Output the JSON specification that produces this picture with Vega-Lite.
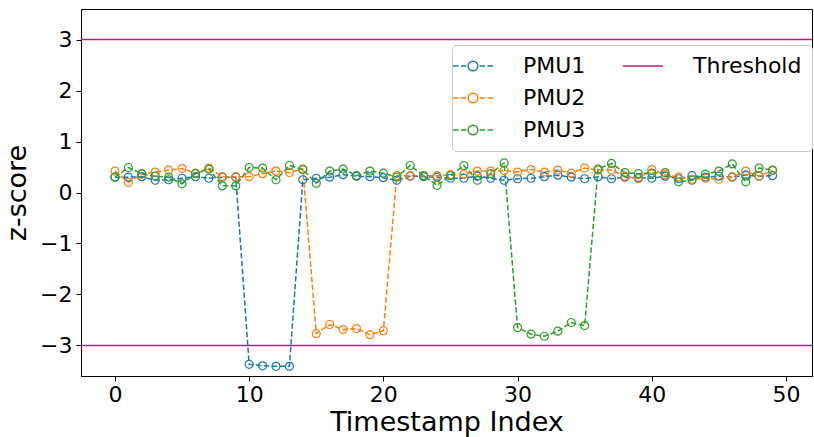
{
  "$schema": "https://vega.github.io/schema/vega-lite/v6.json",
  "width": 731,
  "height": 367,
  "autosize": {"type": "none"},
  "padding": {"left": 81, "top": 9, "right": 2, "bottom": 61},
  "background": "white",
  "config": {
    "font": "DejaVu Sans",
    "view": {"stroke": "#000", "strokeWidth": 1},
    "axis": {"grid": false, "domainColor": "#000", "tickColor": "#000", "labelColor": "#000", "titleColor": "#000", "labelFont": "DejaVu Sans", "titleFont": "DejaVu Sans", "titleFontWeight": "normal", "labelFontSize": 22, "titleFontSize": 27, "tickSize": 5, "labelPadding": 4}
  },
  "datasets": {
    "pmu": [
      {"x":0,"s":"PMU1","v":0.30},{"x":1,"s":"PMU1","v":0.30},{"x":2,"s":"PMU1","v":0.31},{"x":3,"s":"PMU1","v":0.24},{"x":4,"s":"PMU1","v":0.25},{"x":5,"s":"PMU1","v":0.28},{"x":6,"s":"PMU1","v":0.31},{"x":7,"s":"PMU1","v":0.28},{"x":8,"s":"PMU1","v":0.30},{"x":9,"s":"PMU1","v":0.30},
      {"x":10,"s":"PMU1","v":-3.37},{"x":11,"s":"PMU1","v":-3.40},{"x":12,"s":"PMU1","v":-3.41},{"x":13,"s":"PMU1","v":-3.41},{"x":14,"s":"PMU1","v":0.25},{"x":15,"s":"PMU1","v":0.28},{"x":16,"s":"PMU1","v":0.30},{"x":17,"s":"PMU1","v":0.35},{"x":18,"s":"PMU1","v":0.32},{"x":19,"s":"PMU1","v":0.31},
      {"x":20,"s":"PMU1","v":0.29},{"x":21,"s":"PMU1","v":0.24},{"x":22,"s":"PMU1","v":0.32},{"x":23,"s":"PMU1","v":0.31},{"x":24,"s":"PMU1","v":0.30},{"x":25,"s":"PMU1","v":0.28},{"x":26,"s":"PMU1","v":0.28},{"x":27,"s":"PMU1","v":0.32},{"x":28,"s":"PMU1","v":0.28},{"x":29,"s":"PMU1","v":0.24},
      {"x":30,"s":"PMU1","v":0.27},{"x":31,"s":"PMU1","v":0.28},{"x":32,"s":"PMU1","v":0.31},{"x":33,"s":"PMU1","v":0.34},{"x":34,"s":"PMU1","v":0.30},{"x":35,"s":"PMU1","v":0.27},{"x":36,"s":"PMU1","v":0.31},{"x":37,"s":"PMU1","v":0.27},{"x":38,"s":"PMU1","v":0.30},{"x":39,"s":"PMU1","v":0.29},
      {"x":40,"s":"PMU1","v":0.28},{"x":41,"s":"PMU1","v":0.32},{"x":42,"s":"PMU1","v":0.27},{"x":43,"s":"PMU1","v":0.33},{"x":44,"s":"PMU1","v":0.30},{"x":45,"s":"PMU1","v":0.32},{"x":46,"s":"PMU1","v":0.30},{"x":47,"s":"PMU1","v":0.34},{"x":48,"s":"PMU1","v":0.32},{"x":49,"s":"PMU1","v":0.33},
      {"x":0,"s":"PMU2","v":0.42},{"x":1,"s":"PMU2","v":0.20},{"x":2,"s":"PMU2","v":0.36},{"x":3,"s":"PMU2","v":0.40},{"x":4,"s":"PMU2","v":0.44},{"x":5,"s":"PMU2","v":0.47},{"x":6,"s":"PMU2","v":0.38},{"x":7,"s":"PMU2","v":0.48},{"x":8,"s":"PMU2","v":0.31},{"x":9,"s":"PMU2","v":0.31},
      {"x":10,"s":"PMU2","v":0.31},{"x":11,"s":"PMU2","v":0.37},{"x":12,"s":"PMU2","v":0.42},{"x":13,"s":"PMU2","v":0.39},{"x":14,"s":"PMU2","v":0.46},{"x":15,"s":"PMU2","v":-2.77},{"x":16,"s":"PMU2","v":-2.59},{"x":17,"s":"PMU2","v":-2.69},{"x":18,"s":"PMU2","v":-2.67},{"x":19,"s":"PMU2","v":-2.79},
      {"x":20,"s":"PMU2","v":-2.71},{"x":21,"s":"PMU2","v":0.33},{"x":22,"s":"PMU2","v":0.33},{"x":23,"s":"PMU2","v":0.33},{"x":24,"s":"PMU2","v":0.33},{"x":25,"s":"PMU2","v":0.35},{"x":26,"s":"PMU2","v":0.36},{"x":27,"s":"PMU2","v":0.42},{"x":28,"s":"PMU2","v":0.42},{"x":29,"s":"PMU2","v":0.43},
      {"x":30,"s":"PMU2","v":0.40},{"x":31,"s":"PMU2","v":0.45},{"x":32,"s":"PMU2","v":0.40},{"x":33,"s":"PMU2","v":0.44},{"x":34,"s":"PMU2","v":0.38},{"x":35,"s":"PMU2","v":0.48},{"x":36,"s":"PMU2","v":0.44},{"x":37,"s":"PMU2","v":0.44},{"x":38,"s":"PMU2","v":0.32},{"x":39,"s":"PMU2","v":0.27},
      {"x":40,"s":"PMU2","v":0.45},{"x":41,"s":"PMU2","v":0.35},{"x":42,"s":"PMU2","v":0.30},{"x":43,"s":"PMU2","v":0.26},{"x":44,"s":"PMU2","v":0.28},{"x":45,"s":"PMU2","v":0.26},{"x":46,"s":"PMU2","v":0.31},{"x":47,"s":"PMU2","v":0.42},{"x":48,"s":"PMU2","v":0.32},{"x":49,"s":"PMU2","v":0.43},
      {"x":0,"s":"PMU3","v":0.30},{"x":1,"s":"PMU3","v":0.49},{"x":2,"s":"PMU3","v":0.37},{"x":3,"s":"PMU3","v":0.32},{"x":4,"s":"PMU3","v":0.30},{"x":5,"s":"PMU3","v":0.17},{"x":6,"s":"PMU3","v":0.37},{"x":7,"s":"PMU3","v":0.46},{"x":8,"s":"PMU3","v":0.13},{"x":9,"s":"PMU3","v":0.13},
      {"x":10,"s":"PMU3","v":0.49},{"x":11,"s":"PMU3","v":0.48},{"x":12,"s":"PMU3","v":0.25},{"x":13,"s":"PMU3","v":0.53},{"x":14,"s":"PMU3","v":0.45},{"x":15,"s":"PMU3","v":0.18},{"x":16,"s":"PMU3","v":0.42},{"x":17,"s":"PMU3","v":0.46},{"x":18,"s":"PMU3","v":0.33},{"x":19,"s":"PMU3","v":0.42},
      {"x":20,"s":"PMU3","v":0.38},{"x":21,"s":"PMU3","v":0.30},{"x":22,"s":"PMU3","v":0.53},{"x":23,"s":"PMU3","v":0.33},{"x":24,"s":"PMU3","v":0.14},{"x":25,"s":"PMU3","v":0.33},{"x":26,"s":"PMU3","v":0.53},{"x":27,"s":"PMU3","v":0.24},{"x":28,"s":"PMU3","v":0.37},{"x":29,"s":"PMU3","v":0.58},
      {"x":30,"s":"PMU3","v":-2.65},{"x":31,"s":"PMU3","v":-2.78},{"x":32,"s":"PMU3","v":-2.82},{"x":33,"s":"PMU3","v":-2.72},{"x":34,"s":"PMU3","v":-2.55},{"x":35,"s":"PMU3","v":-2.61},{"x":36,"s":"PMU3","v":0.46},{"x":37,"s":"PMU3","v":0.57},{"x":38,"s":"PMU3","v":0.39},{"x":39,"s":"PMU3","v":0.37},
      {"x":40,"s":"PMU3","v":0.38},{"x":41,"s":"PMU3","v":0.39},{"x":42,"s":"PMU3","v":0.21},{"x":43,"s":"PMU3","v":0.24},{"x":44,"s":"PMU3","v":0.36},{"x":45,"s":"PMU3","v":0.42},{"x":46,"s":"PMU3","v":0.56},{"x":47,"s":"PMU3","v":0.21},{"x":48,"s":"PMU3","v":0.48},{"x":49,"s":"PMU3","v":0.44}
    ],
    "thr": [
      {"s": "Threshold", "v": 3},
      {"s": "Threshold", "v": -3}
    ]
  },
  "layer": [
    {
      "data": {"name": "pmu"},
      "mark": {"type": "line", "strokeWidth": 1.5, "strokeDash": [5.5, 2.4], "clip": true},
      "encoding": {
        "x": {"field": "x", "type": "quantitative", "scale": {"domain": [-2.53, 51.94], "nice": false, "zero": false}, "axis": {"values": [0, 10, 20, 30, 40, 50], "title": "Timestamp Index", "titlePadding": 4, "labelPadding": 3}},
        "y": {"field": "v", "type": "quantitative", "scale": {"domain": [-3.6, 3.6], "nice": false}, "axis": {"values": [-3, -2, -1, 0, 1, 2, 3], "title": "z-score", "titlePadding": 8}},
        "color": {
          "field": "s", "type": "nominal",
          "scale": {"domain": ["PMU1", "PMU2", "PMU3", "Threshold", " "], "range": ["#1f77b4", "#ff7f0e", "#2ca02c", "#c71585", "#ffffff"]},
          "legend": {
            "title": null,
            "orient": "none",
            "legendX": 371,
            "legendY": 36,
            "columns": 2,
            "columnPadding": 34,
            "rowPadding": 10,
            "labelFontSize": 22,
            "labelFont": "DejaVu Sans",
            "labelColor": "#000",
            "labelOffset": 39,
            "symbolSize": 400,
            "symbolStrokeWidth": 1.5,
            "symbolFillColor": "transparent",
            "padding": 10,
            "strokeColor": "#cccccc",
            "fillColor": "rgba(255,255,255,0.8)",
            "cornerRadius": 4,
            "encode": {
              "symbols": {
                "update": {
                  "shape": {"signal": "datum.value === 'Threshold' ? 'M-2,0L2,0' : 'M-2,0L-1.45,0M-1.21,0L-0.66,0M0.66,0L1.21,0M1.45,0L2,0M0.48,0A0.48,0.48 0 1,1 -0.48,0A0.48,0.48 0 1,1 0.48,0'"},
                  "fill": {"value": "transparent"},
                  "opacity": {"signal": "datum.value === ' ' ? 0 : 1"},
                  "strokeDash": {"value": []}
                }
              }
            }
          }
        }
      }
    },
    {
      "data": {"name": "pmu"},
      "mark": {"type": "point", "shape": "circle", "filled": false, "size": 64, "strokeWidth": 1.2, "opacity": 1, "clip": true},
      "encoding": {
        "x": {"field": "x", "type": "quantitative"},
        "y": {"field": "v", "type": "quantitative"},
        "color": {"field": "s", "type": "nominal"}
      }
    },
    {
      "data": {"name": "thr"},
      "mark": {"type": "rule", "strokeWidth": 1.5},
      "encoding": {
        "y": {"field": "v", "type": "quantitative"},
        "color": {"field": "s", "type": "nominal"}
      }
    }
  ]
}
